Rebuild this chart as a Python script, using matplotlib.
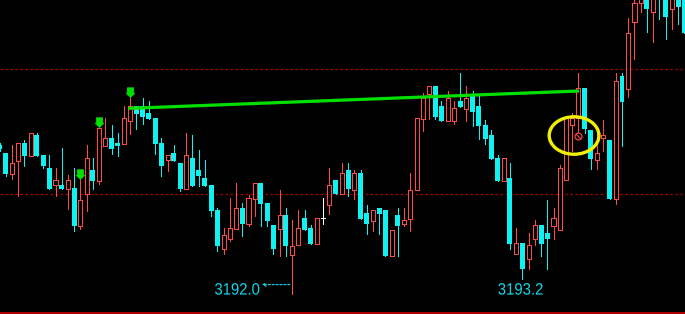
import matplotlib
matplotlib.use("Agg")
import matplotlib.pyplot as plt
from matplotlib.font_manager import FontProperties
from matplotlib.patches import Ellipse, PathPatch
from matplotlib.path import Path
from matplotlib.textpath import TextPath
from matplotlib.transforms import Affine2D, IdentityTransform
import numpy as np

# OHLC of the visible bars, left to right
opens = [3203.92, 3203.28, 3201.60, 3202.64, 3204.08, 3203.04, 3204.72, 3203.12, 3202.08, 3200.72,
         3200.72, 3200.40, 3200.48, 3197.44, 3200.00, 3201.92, 3201.04, 3203.84, 3204.48, 3204.08,
         3204.00, 3205.84, 3207.04, 3207.04, 3206.48, 3206.08, 3204.08, 3202.72, 3203.28, 3202.48,
         3200.40, 3202.88, 3201.92, 3201.28, 3200.72, 3198.72, 3195.60, 3196.40, 3197.20, 3198.88,
         3197.60, 3199.60, 3200.88, 3199.28, 3197.52, 3197.20, 3198.32, 3195.12, 3195.92, 3198.08,
         3197.28, 3196.00, 3198.08, 3199.12, 3201.12, 3200.00, 3201.92, 3200.32, 3201.68, 3198.48,
         3197.84, 3198.88, 3198.72, 3195.04, 3198.32, 3197.60, 3198.00, 3200.32, 3206.00, 3208.00,
         3208.64, 3207.04, 3205.84, 3205.84, 3207.44, 3206.80, 3207.84, 3207.04, 3205.52, 3204.72,
         3202.88, 3201.04, 3201.28, 3195.20, 3196.08, 3194.80, 3196.40, 3197.52, 3196.88, 3197.44,
         3197.12, 3201.12, 3205.52, 3206.08, 3208.48, 3205.12, 3202.72, 3204.48, 3204.32, 3199.60,
         3209.44, 3208.40, 3213.76, 3215.28, 3215.92, 3214.56, 3217.12, 3215.92, 3214.80, 3215.92,
         3215.92]
highs = [3204.08, 3203.28, 3203.92, 3204.08, 3204.32, 3204.88, 3204.88, 3203.12, 3203.12, 3202.08,
         3203.68, 3201.52, 3202.08, 3201.12, 3203.92, 3202.88, 3205.28, 3206.08, 3205.52, 3204.88,
         3207.04, 3207.68, 3207.04, 3207.68, 3207.44, 3206.08, 3204.48, 3203.12, 3203.92, 3202.48,
         3204.88, 3204.72, 3203.52, 3202.72, 3200.72, 3198.88, 3197.28, 3199.68, 3200.88, 3199.28,
         3199.92, 3200.88, 3200.88, 3199.28, 3197.52, 3200.32, 3198.88, 3197.92, 3198.72, 3198.72,
         3197.52, 3198.08, 3199.68, 3202.08, 3201.12, 3202.48, 3202.48, 3201.92, 3201.92, 3199.12,
         3198.72, 3198.88, 3198.72, 3197.12, 3198.88, 3198.88, 3201.68, 3206.08, 3208.08, 3208.64,
         3208.64, 3207.44, 3208.24, 3207.44, 3209.68, 3208.64, 3208.24, 3207.84, 3205.92, 3205.12,
         3203.12, 3202.88, 3202.48, 3197.28, 3196.08, 3196.88, 3197.92, 3197.52, 3199.52, 3198.88,
         3202.32, 3206.08, 3206.48, 3209.68, 3208.48, 3205.12, 3204.88, 3205.92, 3204.32, 3209.68,
         3209.68, 3214.08, 3215.92, 3216.72, 3216.32, 3216.32, 3217.52, 3216.32, 3216.32, 3216.32,
         3216.32]
lows = [3203.44, 3201.44, 3201.20, 3199.84, 3202.24, 3203.04, 3203.04, 3202.08, 3200.40, 3199.84,
        3200.40, 3198.80, 3197.04, 3197.20, 3198.64, 3200.40, 3200.80, 3203.84, 3203.20, 3203.04,
        3204.00, 3204.80, 3205.20, 3205.60, 3206.00, 3203.20, 3201.44, 3201.84, 3202.64, 3200.24,
        3200.40, 3200.64, 3200.64, 3200.64, 3198.24, 3195.44, 3195.20, 3196.24, 3197.20, 3196.64,
        3197.44, 3198.24, 3197.44, 3197.44, 3195.20, 3195.04, 3195.04, 3192.00, 3195.92, 3197.12,
        3196.00, 3196.00, 3197.60, 3198.40, 3200.00, 3200.00, 3199.84, 3199.60, 3198.00, 3196.80,
        3197.04, 3196.80, 3195.04, 3195.04, 3195.04, 3197.44, 3197.04, 3200.32, 3205.04, 3206.00,
        3206.00, 3205.84, 3205.84, 3205.60, 3206.96, 3205.84, 3205.44, 3204.40, 3204.00, 3202.80,
        3201.04, 3201.04, 3195.60, 3195.20, 3193.20, 3194.00, 3195.92, 3195.04, 3194.00, 3196.40,
        3197.12, 3201.12, 3203.44, 3204.96, 3204.88, 3202.00, 3202.00, 3203.44, 3199.60, 3199.20,
        3203.84, 3207.76, 3210.80, 3214.56, 3212.96, 3212.16, 3214.00, 3212.40, 3213.20, 3213.60,
        3212.88]
closes = [3203.60, 3201.60, 3202.48, 3204.08, 3203.04, 3204.88, 3203.04, 3202.24, 3200.40, 3201.12,
          3200.40, 3201.12, 3197.44, 3199.52, 3202.88, 3201.04, 3205.28, 3204.48, 3203.60, 3203.84,
          3206.08, 3207.04, 3206.40, 3206.16, 3206.00, 3204.00, 3202.24, 3203.12, 3202.64, 3200.40,
          3203.12, 3200.64, 3201.44, 3200.64, 3198.64, 3195.84, 3196.72, 3197.28, 3198.88, 3197.60,
          3199.68, 3200.88, 3199.20, 3197.84, 3195.60, 3198.32, 3195.84, 3195.84, 3197.28, 3197.12,
          3196.00, 3198.08, 3198.08, 3200.72, 3200.00, 3201.68, 3200.40, 3201.68, 3198.00, 3197.60,
          3198.72, 3198.40, 3195.04, 3197.12, 3197.44, 3197.92, 3200.32, 3206.08, 3207.68, 3208.64,
          3206.16, 3205.84, 3207.68, 3206.88, 3206.96, 3207.68, 3206.56, 3205.44, 3204.40, 3202.80,
          3201.04, 3202.88, 3196.00, 3196.08, 3194.00, 3195.92, 3197.52, 3196.00, 3196.40, 3198.08,
          3202.08, 3206.08, 3206.08, 3208.48, 3205.20, 3202.80, 3203.28, 3204.72, 3199.60, 3209.04,
          3207.36, 3212.88, 3215.28, 3216.16, 3214.80, 3215.92, 3216.16, 3214.16, 3215.92, 3214.96,
          3212.88]

# signals and annotations
arrow_bars = [13, 16, 21]
trend_x = [20.7, 93.1]
trend_y = [3206.85, 3208.24]
ref_levels = [3200.0, 3210.0]
low_label_1 = "3192.0"
low_label_2 = "3193.2"

UP = "#FF4A4A"
DOWN = "#10F2F2"
GREEN = "#00E000"
TXT = "#12D6EA"

fig = plt.figure(figsize=(6.85, 3.14), dpi=100, facecolor="black")
ax = fig.add_axes([0, 0, 1, 1], facecolor="black")
ax.set_xlim(0.08, 110.12)
ax.set_ylim(3190.40, 3215.52)
ax.axis("off")

o = np.array(opens); h = np.array(highs); l = np.array(lows); c = np.array(closes)
x = np.arange(len(o))
cols = np.where(c > o, UP, np.where(c < o, DOWN, "white"))

for lvl in ref_levels:
    ax.axhline(lvl, color="#A80000", lw=0.9, ls=(0, (2, 2)), zorder=1)

ax.vlines(x, l, h, colors=cols, lw=0.72, antialiased=False, zorder=2)

bottom = np.minimum(o, c)
height = np.abs(c - o)
up = c > o
dn = c < o
ax.bar(x[up], height[up], 0.66, bottom[up], facecolor="black", edgecolor=UP,
       lw=0.72, antialiased=False, zorder=3)
ax.bar(x[dn], height[dn], 0.80, bottom[dn], facecolor=DOWN, edgecolor="none",
       antialiased=False, zorder=3)
flat = c == o
ax.hlines(o[flat], x[flat] - 0.35, x[flat] + 0.35, colors="white", lw=0.72,
          antialiased=False, zorder=3)

# green trend line
ax.plot(trend_x, trend_y, color=GREEN, lw=2.3, solid_capstyle="butt", zorder=4)

# green down arrows above signal bars
verts = [(0, 0), (-0.45, 0.44), (-0.33, 0.44), (-0.33, 1.0), (0.33, 1.0),
         (0.33, 0.44), (0.45, 0.44), (0, 0)]
ax.plot(arrow_bars, h[arrow_bars] + 0.08, ls="none", marker=Path(verts), ms=14,
        color=GREEN, mec=GREEN, mew=0.5, zorder=5)

# yellow circle and marker
ax.add_patch(Ellipse((92.3, 3204.68), 8.0, 3.0, fill=False, ec="#F0F000", lw=2.4, zorder=6))
ax.plot([92.9], [3204.66], marker="o", ms=5, mfc="none", mec=UP, mew=0.8, zorder=6)
ax.plot([92.9], [3204.66], marker=Path([(-0.7, 0.7), (0.7, -0.7)]), ms=4, mec=UP, mew=0.8, zorder=6)


def narrow_label(xd, yd, s, w_px=44.3, h_px=11.7):
    # the terminal font is tall and narrow: stretch a text path to that box
    px, py = ax.transData.transform((xd, yd))
    tp = TextPath((0, 0), s, size=1, prop=FontProperties(family="Liberation Sans"))
    ext = tp.get_extents()
    tr = (Affine2D().translate(-ext.x0, -ext.y0)
          .scale(w_px / ext.width, h_px / ext.height).translate(px, py))
    ax.add_patch(PathPatch(tr.transform_path(tp), transform=IdentityTransform(),
                           fc=TXT, ec="none", zorder=7))


narrow_label(34.62, 3191.94, low_label_1)
ax.annotate("", xy=(42.1, 3192.75), xytext=(46.65, 3192.75),
            arrowprops=dict(arrowstyle="->", color=TXT, lw=0.8, ls=(0, (2, 1.5)),
                            shrinkA=0, shrinkB=0, mutation_scale=6), zorder=7)
narrow_label(80.13, 3191.94, low_label_2)

ax.axhline(3190.52, color="#D00000", lw=1.2, zorder=7)

fig.savefig("out.png", dpi=100, facecolor="black")
